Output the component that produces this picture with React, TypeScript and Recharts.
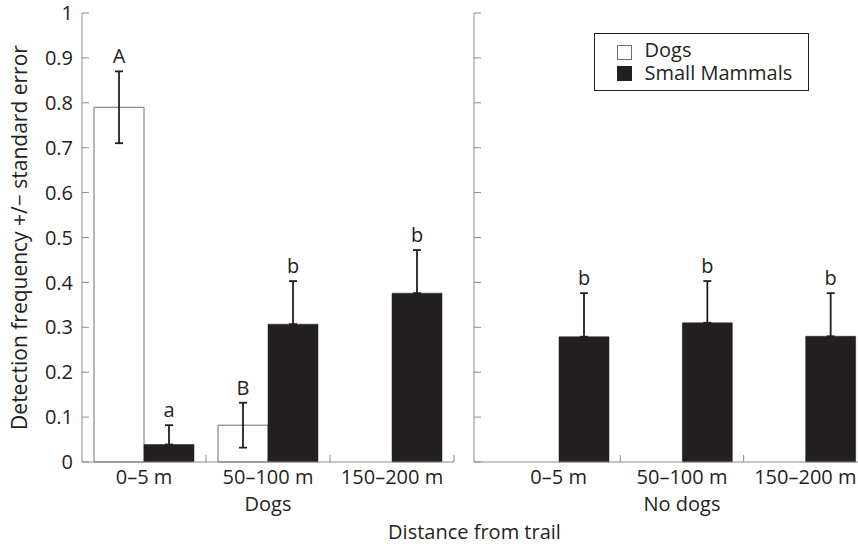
import React from 'react';
import { BarChart, Bar, XAxis, YAxis, ErrorBar, LabelList, Label, Legend } from 'recharts';

// ---------- data ----------
const categories = ['0–5 m', '50–100 m', '150–200 m'];
const panelNames = ['Dogs', 'No dogs'];
const seriesNames = ['Dogs', 'Small Mammals'];
const yTicks = [0, 0.1, 0.2, 0.3, 0.4, 0.5, 0.6, 0.7, 0.8, 0.9, 1];

// Panel "Dogs"
const withDogsDogs = [0.79, 0.082, 0];
const withDogsDogsErr = [0.08, 0.05, 0];
const withDogsDogLetters = ['A', 'B', ''];
const withDogsMammals = [0.039, 0.307, 0.376];
const withDogsMammalsErr = [0.043, 0.096, 0.096];
const withDogsMammalLetters = ['a', 'b', 'b'];

// Panel "No dogs"
const noDogsDogs = [0, 0, 0];
const noDogsDogsErr = [0, 0, 0];
const noDogsDogLetters = ['', '', ''];
const noDogsMammals = [0.279, 0.31, 0.28];
const noDogsMammalsErr = [0.097, 0.093, 0.096];
const noDogsMammalLetters = ['b', 'b', 'b'];

const buildRows = (
  dogs: number[], dogsErr: number[], dogLetters: string[],
  mam: number[], mamErr: number[], mamLetters: string[]
) =>
  categories.map((c, i) => ({
    category: c,
    dogs: dogs[i],
    dogsErr: dogsErr[i],
    mammals: mam[i],
    mammalsErr: [0, mamErr[i]],
    dogTag: `${dogLetters[i]}|${dogsErr[i]}|${dogs[i]}`,
    mamTag: `${mamLetters[i]}|${mamErr[i]}|${mam[i]}`,
  }));

const leftRows = buildRows(withDogsDogs, withDogsDogsErr, withDogsDogLetters, withDogsMammals, withDogsMammalsErr, withDogsMammalLetters);
const rightRows = buildRows(noDogsDogs, noDogsDogsErr, noDogsDogLetters, noDogsMammals, noDogsMammalsErr, noDogsMammalLetters);

// ---------- styles / layout ----------
const FONT = '"Open Sans", "Noto Sans", sans-serif';
const FS = 20;
const INK = '#231f20';
const AXIS = '#8a8a8a';
const BAR_EDGE = '#6d6e71';
const W = 858;
const H = 544;
const TOP = 13;
const XAXIS_H = 35;
const BOTTOM = 47;
const LEFT_YAXIS_W = 82;
const LEFT_RIGHT_MARGIN = 404;
const RIGHT_X = 400;
const RIGHT_W = 480;
const RIGHT_YAXIS_W = 74;
const RIGHT_RIGHT_MARGIN = 13;
const RIGHT_PAD = 23;

const LEFT_PLOT_W = W - LEFT_RIGHT_MARGIN - LEFT_YAXIS_W;
const RIGHT_PLOT_W = RIGHT_W - RIGHT_RIGHT_MARGIN - RIGHT_YAXIS_W - RIGHT_PAD;
const RIGHT_PLOT_END = RIGHT_X + RIGHT_W - RIGHT_RIGHT_MARGIN;

const makeCatTick = (half: number) => (props: any) => {
  const { x, y, payload } = props;
  return (
    <g>
      <text x={x} y={y + 22} textAnchor="middle" fontSize={FS} fontFamily={FONT} fill={INK}>
        {payload.value}
      </text>
      <line x1={x + half} x2={x + half} y1={y} y2={y - 7} stroke={AXIS} strokeWidth={1} />
    </g>
  );
};

const renderLetter = (props: any) => {
  const vb = props.viewBox || props;
  const x = vb.x ?? props.x;
  const y = vb.y ?? props.y;
  const width = vb.width ?? props.width;
  const height = vb.height ?? props.height;
  const parts = String(props.value ?? '').split('|');
  const letter = parts[0];
  const err = Number(parts[1]);
  const val = Number(parts[2]);
  if (!letter || !val || !height) return null;
  const errPx = (err * Math.abs(height)) / val;
  const top = Math.min(y, y + height);
  return (
    <text x={x + width / 2} y={top - errPx - 8} textAnchor="middle" fontSize={FS} fontFamily={FONT} fill={INK}>
      {letter}
    </text>
  );
};

const yTickStyle = { fontSize: FS, fontFamily: FONT, fill: INK };

const LegendBox = () => (
  <div
    style={{
      position: 'relative',
      width: 215,
      height: 58,
      boxSizing: 'border-box',
      border: `1.5px solid ${INK}`,
      background: '#fff',
      fontFamily: FONT,
      fontSize: FS,
      color: INK,
      lineHeight: '20px',
    }}
  >
    {seriesNames.map((name, i) => (
      <React.Fragment key={name}>
        <div
          style={{
            position: 'absolute',
            left: 21.5,
            top: 10.5 + i * 21,
            width: 15,
            height: 15,
            boxSizing: 'border-box',
            background: i === 0 ? '#fff' : INK,
            border: `1px solid ${i === 0 ? BAR_EDGE : INK}`,
          }}
        />
        <div style={{ position: 'absolute', left: 49.5, top: 5.5 + i * 23.5, whiteSpace: 'nowrap' }}>{name}</div>
      </React.Fragment>
    ))}
  </div>
);

export default function App() {
  return (
    <div
      style={{
        position: 'absolute',
        left: 0,
        top: 0,
        width: W,
        height: H,
        overflow: 'hidden',
        background: '#fff',
        fontFamily: FONT,
      }}
    >
      {/* Left panel: Dogs */}
      <div style={{ position: 'absolute', left: 0, top: 0 }}>
        <BarChart
          width={W}
          height={H}
          data={leftRows}
          margin={{ top: TOP, right: LEFT_RIGHT_MARGIN, bottom: BOTTOM, left: 0 }}
          barCategoryGap={12}
          barGap={0}
        >
          <XAxis
            dataKey="category"
            height={XAXIS_H}
            axisLine={{ stroke: AXIS, strokeWidth: 1 }}
            tickLine={false}
            tickSize={0}
            tickMargin={0}
            interval={0}
            tick={makeCatTick(LEFT_PLOT_W / categories.length / 2)}
          >
            <Label
              content={(p: any) => {
                const vb = p.viewBox;
                return (
                  <text x={vb.x + vb.width / 2} y={vb.y + 49} textAnchor="middle" fontSize={FS} fontFamily={FONT} fill={INK}>
                    {panelNames[0]}
                  </text>
                );
              }}
            />
            <Label
              content={(p: any) => {
                const vb = p.viewBox;
                return (
                  <text x={(vb.x + RIGHT_PLOT_END) / 2} y={vb.y + 77} textAnchor="middle" fontSize={FS} fontFamily={FONT} fill={INK}>
                    Distance from trail
                  </text>
                );
              }}
            />
          </XAxis>
          <YAxis
            width={LEFT_YAXIS_W}
            domain={[0, 1]}
            ticks={yTicks}
            interval={0}
            type="number"
            axisLine={{ stroke: AXIS, strokeWidth: 1 }}
            tickLine={{ stroke: AXIS, strokeWidth: 1 }}
            tickSize={-7}
            tickMargin={16}
            tick={yTickStyle}
          >
            <Label
              content={(p: any) => {
                const vb = p.viewBox;
                const cx = vb.x + 27;
                const cy = vb.y + vb.height / 2;
                return (
                  <text
                    x={cx}
                    y={cy}
                    transform={`rotate(-90, ${cx}, ${cy})`}
                    textAnchor="middle"
                    fontSize={21}
                    fontFamily={FONT}
                    fill={INK}
                  >
                    Detection frequency +/− standard error
                  </text>
                );
              }}
            />
          </YAxis>
          <Bar dataKey="dogs" name={seriesNames[0]} fill="#fff" stroke={BAR_EDGE} strokeWidth={1} isAnimationActive={false}>
            <ErrorBar dataKey="dogsErr" width={4} stroke={INK} strokeWidth={1.8} />
            <LabelList dataKey="dogTag" content={renderLetter} />
          </Bar>
          <Bar dataKey="mammals" name={seriesNames[1]} fill={INK} stroke={INK} strokeWidth={0.5} isAnimationActive={false}>
            <ErrorBar dataKey="mammalsErr" width={4} stroke={INK} strokeWidth={1.8} />
            <LabelList dataKey="mamTag" content={renderLetter} />
          </Bar>
        </BarChart>
      </div>

      {/* Right panel: No dogs */}
      <div style={{ position: 'absolute', left: RIGHT_X, top: 0 }}>
        <BarChart
          width={RIGHT_W}
          height={H}
          data={rightRows}
          margin={{ top: TOP, right: RIGHT_RIGHT_MARGIN, bottom: BOTTOM, left: 0 }}
          barCategoryGap={12}
          barGap={0}
        >
          <XAxis
            dataKey="category"
            height={XAXIS_H}
            padding={{ left: RIGHT_PAD, right: 0 }}
            axisLine={{ stroke: AXIS, strokeWidth: 1 }}
            tickLine={false}
            tickSize={0}
            tickMargin={0}
            interval={0}
            tick={makeCatTick(RIGHT_PLOT_W / categories.length / 2)}
          >
            <Label
              content={(p: any) => {
                const vb = p.viewBox;
                return (
                  <text
                    x={vb.x + RIGHT_PAD + (vb.width - RIGHT_PAD) / 2}
                    y={vb.y + 49}
                    textAnchor="middle"
                    fontSize={FS}
                    fontFamily={FONT}
                    fill={INK}
                  >
                    {panelNames[1]}
                  </text>
                );
              }}
            />
          </XAxis>
          <YAxis
            width={RIGHT_YAXIS_W}
            domain={[0, 1]}
            ticks={yTicks}
            interval={0}
            type="number"
            axisLine={{ stroke: AXIS, strokeWidth: 1 }}
            tickLine={{ stroke: AXIS, strokeWidth: 1 }}
            tickSize={-7}
            tickMargin={16}
            tick={() => <g />}
          />
          <Legend
            layout="vertical"
            align="center"
            verticalAlign="middle"
            wrapperStyle={{ position: 'absolute', left: 594 - RIGHT_X, top: 33, width: 215, height: 58 }}
            content={() => <LegendBox />}
          />
          <Bar dataKey="dogs" name={seriesNames[0]} fill="#fff" stroke={BAR_EDGE} strokeWidth={1} isAnimationActive={false}>
            <ErrorBar dataKey="dogsErr" width={4} stroke={INK} strokeWidth={1.8} />
            <LabelList dataKey="dogTag" content={renderLetter} />
          </Bar>
          <Bar dataKey="mammals" name={seriesNames[1]} fill={INK} stroke={INK} strokeWidth={0.5} isAnimationActive={false}>
            <ErrorBar dataKey="mammalsErr" width={4} stroke={INK} strokeWidth={1.8} />
            <LabelList dataKey="mamTag" content={renderLetter} />
          </Bar>
        </BarChart>
      </div>
    </div>
  );
}
